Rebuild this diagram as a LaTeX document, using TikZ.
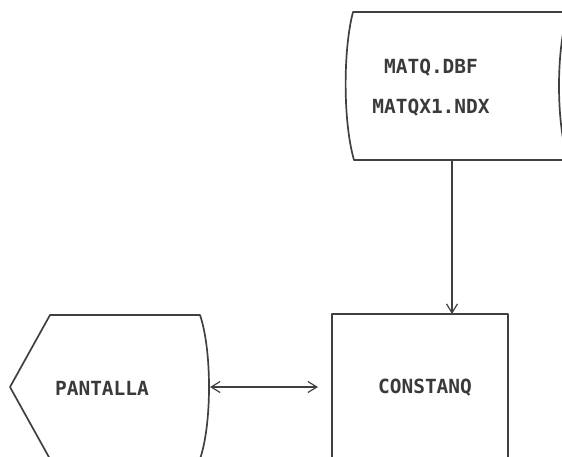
\documentclass[tikz,border=0pt]{standalone}
\usepackage{fontspec}
\setmonofont{DejaVu Sans Mono}
\usetikzlibrary{arrows.meta}
\definecolor{ink}{HTML}{404040}
\definecolor{txt}{HTML}{3A3A3A}
\tikzset{
  shapeline/.style={draw=ink, line width=1.7pt, line join=round},
  conn/.style={draw=ink, line width=1.4pt},
  lbl/.style={font=\ttfamily\bfseries\fontsize{19.5}{22}\selectfont, text=txt, inner sep=0pt},
  mytip/.tip={Straight Barb[length=9pt,width=11pt,line width=1.2pt]}
}
\begin{document}
\begin{tikzpicture}[x=1pt,y=-1pt]
\useasboundingbox (0,0) rectangle (562,456);
\clip (0,0) rectangle (562,456);
% storage (file) symbol
\draw[shapeline] (353,12) -- (568,12)
  .. controls (556,50) and (556,122) .. (568,160)
  -- (354,160)
  .. controls (343,122) and (343,50) .. (353,12) -- cycle;
\node[lbl] (f1) at (431,68) {MATQ.DBF};
\node[lbl] (f2) at (431,108) {MATQX1.NDX};
\coordinate (stS) at (452,160);
% process box
\draw[shapeline] (332,314) rectangle (508,470);
\node[lbl] (cq) at (425,388) {CONSTANQ};
\coordinate (cqN) at (452,314);
\coordinate (cqW) at (318,387);
% display symbol
\draw[shapeline] (10,387) -- (50,315) -- (200,315)
  .. controls (212,350) and (212,424) .. (200,459)
  -- (50,459) -- cycle;
\node[lbl] (pa) at (102,388) {PANTALLA};
\coordinate (paE) at (210,387);
% connectors
\draw[conn, -{mytip}] (stS) -- (cqN);
\draw[conn, {mytip}-{mytip}] (paE) -- (cqW);
\end{tikzpicture}
\end{document}
